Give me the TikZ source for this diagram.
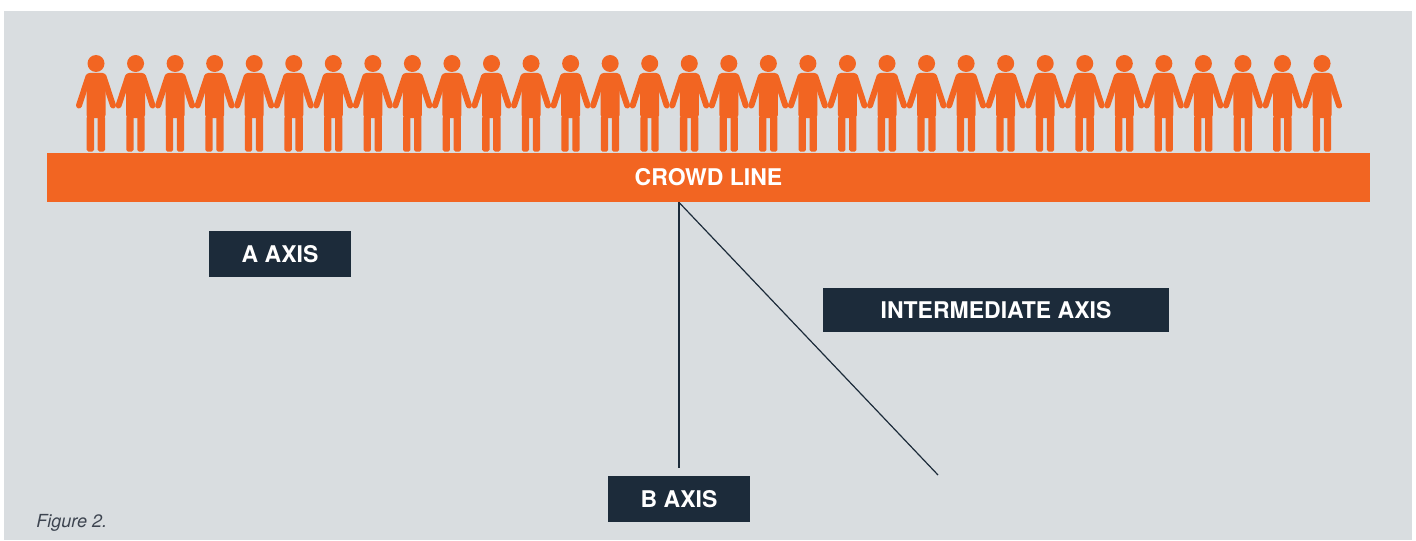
\documentclass[tikz,border=0pt]{standalone}
\usepackage{fontspec}
\setmainfont{TeX Gyre Heros}
\usetikzlibrary{positioning}
\definecolor{crowdorange}{HTML}{F26522}
\definecolor{axisnavy}{HTML}{1C2B3A}
\definecolor{panelgray}{HTML}{D9DDE0}
\definecolor{captiongray}{HTML}{3D4450}
\tikzset{
  labelfont/.style={font=\fontsize{11.5}{13}\selectfont\bfseries},
  axisbox/.style={labelfont, fill=axisnavy, text=white, inner sep=0pt, minimum height=23pt},
  crowdbar/.style={labelfont, fill=crowdorange, text=white, inner sep=0pt},
  axisline/.style={draw=axisnavy, line width=0.6pt},
}

\begin{document}
\begin{tikzpicture}[x=0.5pt,y=-0.5pt]
\fill[white] (0,0) rectangle (1416,540);
\fill[panelgray] (4,11) rectangle (1412,540);
% the crowd
\foreach \i in {0,...,31}{
  \begin{scope}[shift={(96+39.55*\i,0)}]
    \fill[crowdorange] (0,63.5) circle[radius=4.25pt];
    \fill[crowdorange, rounded corners=1.5pt] (-9.5,118) -- (-9.5,73) -- (9.5,73) -- (9.5,118) -- cycle;
    \draw[crowdorange, line width=3pt, line cap=round] (-7.5,76.5) -- (-17,105.5) (7.5,76.5) -- (17,105.5);
    \fill[crowdorange, rounded corners=0.8pt] (-9.3,116) rectangle (-2,151.5) (1.7,116) rectangle (9,151.5);
  \end{scope}
}
\node[crowdbar, minimum width=661.5pt, minimum height=24.5pt] (crowdline) at (708.5,177.5) {CROWD LINE};
% axes
\node[axisbox, minimum width=71pt] (aaxis) at (280,254) {A AXIS};
\node[axisbox, minimum width=173pt, minimum height=22pt] (interaxis) at (996,310) {INTERMEDIATE AXIS};
\node[axisbox, minimum width=71pt] (baxis) at (679,499) {B AXIS};
\coordinate (apex) at (crowdline.south -| baxis.north);
\coordinate[above=4pt of baxis.north] (bend);
\coordinate (iend) at (938,475);
\draw[axisline] (apex) -- (bend);
\draw[axisline] (apex) -- (iend);
\node[anchor=base west, inner sep=0pt, text=captiongray, font=\fontsize{9}{11}\selectfont\itshape] (caption) at (36,527) {Figure 2.};
\end{tikzpicture}
\end{document}
